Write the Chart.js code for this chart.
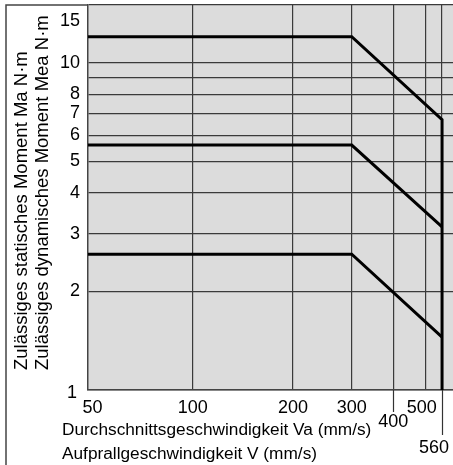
<!DOCTYPE html>
<html>
<head>
<meta charset="utf-8">
<script src="https://cdn.jsdelivr.net/npm/chart.js@4/dist/chart.umd.min.js"></script>
<style>
  html, body { margin: 0; padding: 0; background: #fff; }
  #momentChart { display: block; }
</style>
</head>
<body>
<canvas id="momentChart" width="453" height="465"></canvas>
<script>
// speed (mm/s) where each curve starts, bends and ends
const speed = [48.5, 300, 560];
// allowable moment (N·m) for the three sizes
const momentLarge = [12, 12, 6.7];
const momentMid = [5.6, 5.6, 3.15];
const momentSmall = [2.6, 2.6, 1.45];

const xGridValues = [100, 200, 300, 400, 500, 560];
const yGridValues = [1, 2, 3, 4, 5, 6, 7, 8, 9, 10, 15];
const xTickValues = [50, 100, 200, 300, 400, 500, 560];
const yTickValues = [1, 2, 3, 4, 5, 6, 7, 8, 10, 15];

const yTitleLines = ['Zulässiges statisches Moment Ma N·m', 'Zulässiges dynamisches Moment Mea N·m'];
const xTitleLines = ['Durchschnittsgeschwindigkeit Va (mm/s)', 'Aufprallgeschwindigkeit V (mm/s)'];

const FONT = '"Liberation Sans", Arial, sans-serif';

// a few labels sit off their grid line in the original
const xLabelShift = { 400: { dx: 0, dy: 14 }, 500: { dx: -4, dy: 0 }, 560: { dx: -8, dy: 40 } };
const yLabelShift = { 1: { dx: -3, dy: 3 }, 15: { dx: 0, dy: 16 } };

function toPoints(ys) {
    return speed.map((x, i) => ({ x: x, y: ys[i] }));
}

const largePoints = toPoints(momentLarge);
largePoints.push({ x: speed[2], y: yTickValues[0] });

const plotBackground = {
    id: 'plotBackground',
    beforeDraw(chart) {
        const { ctx, chartArea } = chart;
        ctx.save();
        ctx.fillStyle = '#dcdcdc';
        ctx.fillRect(chartArea.left, chartArea.top, chartArea.right - chartArea.left, chartArea.bottom - chartArea.top);
        ctx.restore();
    }
};

const axisText = {
    id: 'axisText',
    afterDraw(chart) {
        const { ctx, chartArea, scales } = chart;
        ctx.save();

        // outer frame (left and top edge)
        ctx.strokeStyle = '#444';
        ctx.lineWidth = 1.5;
        ctx.beginPath();
        ctx.moveTo(6, 465);
        ctx.lineTo(6, chartArea.top);
        ctx.lineTo(chartArea.left, chartArea.top);
        ctx.stroke();

        // longer tick marks below the axis
        ctx.strokeStyle = '#333';
        ctx.lineWidth = 1.2;
        [[400, 22], [560, 45]].forEach(([v, len]) => {
            const x = Math.round(scales.x.getPixelForValue(v)) + 0.5;
            ctx.beginPath();
            ctx.moveTo(x, chartArea.bottom);
            ctx.lineTo(x, chartArea.bottom + len);
            ctx.stroke();
        });

        ctx.fillStyle = '#000';
        ctx.font = '18px ' + FONT;

        // x tick labels
        ctx.textAlign = 'center';
        ctx.textBaseline = 'middle';
        xTickValues.forEach(v => {
            const s = xLabelShift[v] || { dx: 0, dy: 0 };
            ctx.fillText(String(v), scales.x.getPixelForValue(v) + s.dx, chartArea.bottom + 18 + s.dy);
        });

        // y tick labels
        ctx.textAlign = 'right';
        yTickValues.forEach(v => {
            const s = yLabelShift[v] || { dx: 0, dy: 0 };
            ctx.fillText(String(v), chartArea.left - 8 + s.dx, scales.y.getPixelForValue(v) + s.dy);
        });

        // axis titles
        ctx.font = '17.25px ' + FONT;
        ctx.textAlign = 'left';
        ctx.fillText(xTitleLines[0], 62, 430);
        ctx.fillText(xTitleLines[1], 62, 454);

        ctx.font = '18.5px ' + FONT;
        ctx.translate(0, 370);
        ctx.rotate(-Math.PI / 2);
        ctx.fillText(yTitleLines[0], 0, 22);
        ctx.fillText(yTitleLines[1], 0, 43);

        ctx.restore();
    }
};

const lineStyle = {
    borderColor: '#000',
    borderWidth: 3,
    pointRadius: 0,
    fill: false,
    tension: 0,
    borderJoinStyle: 'miter'
};

new Chart(document.getElementById('momentChart').getContext('2d'), {
    type: 'line',
    data: {
        datasets: [
            Object.assign({ label: 'large', data: largePoints }, lineStyle),
            Object.assign({ label: 'mid', data: toPoints(momentMid) }, lineStyle),
            Object.assign({ label: 'small', data: toPoints(momentSmall) }, lineStyle)
        ]
    },
    options: {
        responsive: false,
        animation: false,
        devicePixelRatio: 1,
        layout: {
            padding: { left: 88, top: 5, right: 0, bottom: 75 }
        },
        scales: {
            x: {
                type: 'logarithmic',
                min: 48.5,
                max: 604,
                afterBuildTicks: scale => {
                    scale.ticks = xGridValues.map(v => ({ value: v }));
                },
                ticks: { display: false },
                grid: { color: '#3a3a3a', lineWidth: 1.2, drawTicks: false },
                border: { color: '#444', width: 1.5 }
            },
            y: {
                type: 'logarithmic',
                min: 1,
                max: 15,
                afterBuildTicks: scale => {
                    scale.ticks = yGridValues.map(v => ({ value: v }));
                },
                ticks: { display: false },
                grid: { color: '#3a3a3a', lineWidth: 1.2, drawTicks: false },
                border: { color: '#444', width: 1.5 }
            }
        },
        plugins: {
            legend: { display: false },
            tooltip: { enabled: false }
        }
    },
    plugins: [plotBackground, axisText]
});
</script>
</body>
</html>
